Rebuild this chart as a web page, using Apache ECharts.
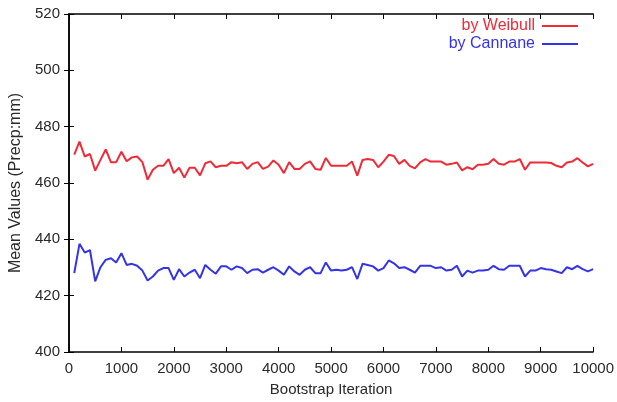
<!DOCTYPE html>
<html>
<head>
<meta charset="utf-8">
<script src="https://cdn.jsdelivr.net/npm/echarts@6/dist/echarts.min.js"></script>
<style>
  html, body { margin: 0; padding: 0; background: #fff; }
  #chart { width: 617px; height: 402px; }
</style>
</head>
<body>
<div id="chart"></div>
<script>
// bootstrap iteration, every 100 steps
const iterations = [
  100, 200, 300, 400, 500, 600, 700, 800, 900, 1000,
  1100, 1200, 1300, 1400, 1500, 1600, 1700, 1800, 1900, 2000,
  2100, 2200, 2300, 2400, 2500, 2600, 2700, 2800, 2900, 3000,
  3100, 3200, 3300, 3400, 3500, 3600, 3700, 3800, 3900, 4000,
  4100, 4200, 4300, 4400, 4500, 4600, 4700, 4800, 4900, 5000,
  5100, 5200, 5300, 5400, 5500, 5600, 5700, 5800, 5900, 6000,
  6100, 6200, 6300, 6400, 6500, 6600, 6700, 6800, 6900, 7000,
  7100, 7200, 7300, 7400, 7500, 7600, 7700, 7800, 7900, 8000,
  8100, 8200, 8300, 8400, 8500, 8600, 8700, 8800, 8900, 9000,
  9100, 9200, 9300, 9400, 9500, 9600, 9700, 9800, 9900, 10000
]

const weibull = [
  470.1, 474.7, 469.4, 470.3, 464.4, 468.2, 471.9, 467.4, 467.4, 471.1,
  467.7, 469.1, 469.4, 467.4, 461.2, 464.7, 466.1, 466.1, 468.5, 463.5,
  465.4, 461.9, 465.4, 465.4, 462.7, 467.0, 467.7, 465.6, 466.1, 466.1,
  467.4, 467.0, 467.4, 465.0, 466.8, 467.4, 465.0, 465.8, 468.0, 466.5,
  463.5, 467.4, 465.0, 465.0, 466.8, 467.7, 465.0, 464.7, 468.9, 466.1,
  466.1, 466.1, 466.1, 467.6, 462.6, 468.2, 468.5, 468.2, 465.6, 467.6,
  470.0, 469.6, 466.8, 468.2, 466.1, 465.2, 467.3, 468.5, 467.6, 467.6,
  467.6, 466.5, 466.8, 467.3, 464.5, 465.6, 464.9, 466.5, 466.5, 466.8,
  468.5, 466.8, 466.5, 467.6, 467.6, 468.5, 464.7, 467.3, 467.3, 467.3,
  467.3, 467.1, 466.1, 465.6, 467.3, 467.6, 468.8, 467.3, 465.9, 466.8
]

const cannane = [
  428.0, 438.4, 435.3, 436.2, 425.1, 430.1, 432.7, 433.3, 431.8, 435.1,
  430.9, 431.3, 430.6, 428.9, 425.4, 426.8, 428.9, 429.8, 429.8, 425.6,
  429.4, 426.8, 428.2, 429.2, 426.2, 430.9, 429.2, 427.8, 430.4, 430.4,
  429.2, 430.4, 429.8, 428.0, 429.2, 429.4, 428.2, 429.2, 430.1, 428.9,
  427.4, 430.4, 428.6, 427.4, 429.2, 430.1, 428.0, 428.0, 431.8, 428.9,
  429.2, 428.9, 429.2, 430.1, 425.9, 431.3, 430.9, 430.4, 428.9, 429.8,
  432.5, 431.5, 429.8, 430.1, 429.2, 428.2, 430.6, 430.6, 430.6, 429.8,
  430.1, 428.9, 429.2, 430.6, 426.8, 428.9, 428.2, 428.9, 428.9, 429.2,
  430.6, 429.4, 429.2, 430.6, 430.6, 430.6, 426.8, 428.9, 428.9, 429.8,
  429.4, 429.2, 428.6, 428.0, 430.1, 429.4, 430.6, 429.4, 428.6, 429.4
]

const red = '#ee2b36'
const blue = '#3434e6'
const font = 'Liberation Sans, Arial, sans-serif'
const textColor = '#2a2a2a'

const frameAxis = {
  axisLine: { show: true, lineStyle: { color: '#000', width: 1.5 } },
  axisTick: { show: true, inside: true, length: 5, lineStyle: { color: '#000' } },
  splitLine: { show: false },
}

const chart = echarts.init(document.getElementById('chart'))

chart.setOption({
  animation: false,
  textStyle: { fontFamily: font },
  grid: { left: 69, right: 20, top: 14, bottom: 48 },
  legend: {
    orient: 'vertical',
    right: 34,
    top: 13,
    align: 'right',
    itemWidth: 36,
    itemHeight: 2,
    itemGap: 2,
    icon: 'rect',
    data: [
      { name: 'by Weibull', textStyle: { color: red } },
      { name: 'by Cannane', textStyle: { color: blue } },
    ],
    textStyle: { fontSize: 16, fontFamily: font, padding: [0, 2, 0, 0] },
  },
  xAxis: [
    {
      type: 'value',
      min: 0,
      max: 10000,
      interval: 1000,
      name: 'Bootstrap Iteration',
      nameLocation: 'middle',
      nameGap: 30,
      nameTextStyle: { fontSize: 15, color: textColor },
      axisLabel: { fontSize: 15, color: textColor, margin: 9, formatter: (v) => String(v) },
      ...frameAxis,
    },
    {
      type: 'value',
      position: 'top',
      min: 0,
      max: 10000,
      interval: 1000,
      axisLabel: { show: false },
      ...frameAxis,
    },
  ],
  yAxis: [
    {
      type: 'value',
      min: 400,
      max: 520,
      interval: 20,
      name: 'Mean Values (Precp:mm)',
      nameLocation: 'middle',
      nameGap: 41,
      nameTextStyle: { fontSize: 16, color: textColor },
      axisLabel: { fontSize: 15, color: textColor, margin: 9 },
      ...frameAxis,
    },
    {
      type: 'value',
      position: 'right',
      min: 400,
      max: 520,
      interval: 20,
      axisLabel: { show: false },
      ...frameAxis,
    },
  ],
  series: [
    {
      name: 'by Weibull',
      type: 'line',
      showSymbol: false,
      color: red,
      lineStyle: { width: 2 },
      data: iterations.map((it, i) => [it, weibull[i]]),
    },
    {
      name: 'by Cannane',
      type: 'line',
      showSymbol: false,
      color: blue,
      lineStyle: { width: 2 },
      data: iterations.map((it, i) => [it, cannane[i]]),
    },
  ],
})
</script>
</body>
</html>
